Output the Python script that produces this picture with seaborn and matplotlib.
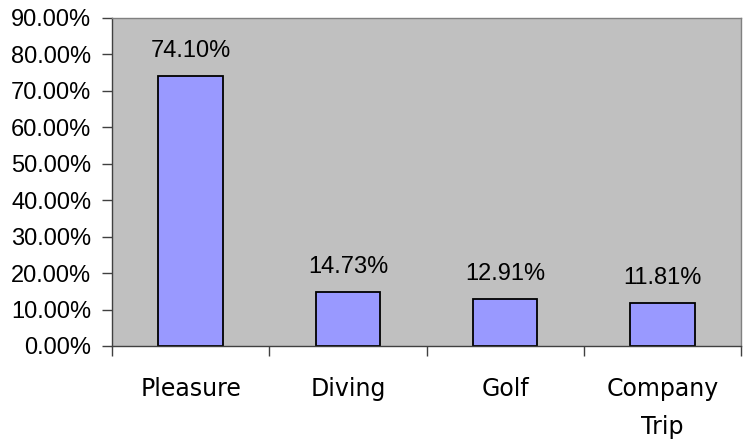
import matplotlib
matplotlib.use("Agg")
import matplotlib.pyplot as plt
from matplotlib.ticker import FixedLocator, FuncFormatter
import seaborn as sns
import pandas as pd

categories = ["Pleasure", "Diving", "Golf", "Company\nTrip"]
shares = [0.7410, 0.1473, 0.1291, 0.1181]
y_ticks = [0.0, 0.1, 0.2, 0.3, 0.4, 0.5, 0.6, 0.7, 0.8, 0.9]

df = pd.DataFrame({"category": categories, "share": shares})

sns.set_theme(style="white")
plt.rcParams["font.family"] = ["Liberation Sans", "DejaVu Sans"]
plt.rcParams["text.color"] = "black"
plt.rcParams["xtick.color"] = "black"
plt.rcParams["ytick.color"] = "black"

fig = plt.figure(figsize=(7.48, 4.42), dpi=100)
ax = fig.add_axes([112 / 748, 1 - 346 / 442, (741 - 112) / 748, (346 - 18) / 442])
ax.set_facecolor("#C0C0C0")

sns.barplot(data=df, x="category", y="share", color="#9999FF", width=0.41,
            edgecolor="black", linewidth=1.3, saturation=1, ax=ax)

ax.set_xlim(-0.5, len(categories) - 0.5)
ax.set_ylim(0, 0.9)
ax.set_xlabel("")
ax.set_ylabel("")

# value labels above each bar
for bar, v in zip(ax.patches, shares):
    ax.annotate(f"{v * 100:.2f}%", (bar.get_x() + bar.get_width() / 2, v),
                xytext=(0, 10), textcoords="offset points",
                ha="center", va="bottom", fontsize=17, color="black")

# y axis: percentages with two decimals
ax.yaxis.set_major_locator(FixedLocator(y_ticks))
ax.yaxis.set_major_formatter(FuncFormatter(lambda v, _: f"{v * 100:.2f}%"))
ax.tick_params(axis="y", which="major", direction="out", length=7, width=1,
               color="#404040", labelcolor="black", labelsize=17, pad=8, left=True)

# x axis: category labels centred, tick marks between categories
ax.set_xticks(range(len(categories)))
ax.set_xticklabels(categories, fontsize=17, family=["DejaVu Sans"], linespacing=1.75,
                   color="black")
ax.tick_params(axis="x", which="major", length=0, pad=22)
ax.set_xticks([i - 0.5 for i in range(len(categories) + 1)], minor=True)
ax.tick_params(axis="x", which="minor", direction="out", length=7, width=1,
               color="#404040", bottom=True)

for side in ["top", "right"]:
    ax.spines[side].set_color("#808080")
    ax.spines[side].set_linewidth(1)
for side in ["left", "bottom"]:
    ax.spines[side].set_color("#404040")
    ax.spines[side].set_linewidth(1)

fig.savefig("out.png", dpi=100, facecolor="white")
